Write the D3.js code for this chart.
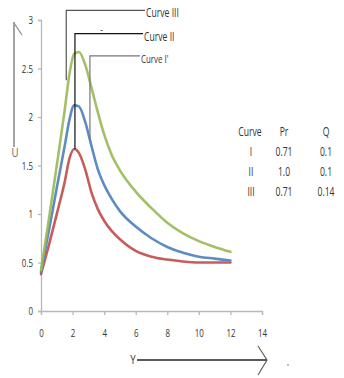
<!DOCTYPE html>
<html><head><meta charset="utf-8">
<script src="https://cdn.jsdelivr.net/npm/d3@7"></script>
<style>
html,body{margin:0;padding:0;background:#fff;}
svg{display:block;}
text{font-family:"Open Sans","Liberation Sans",sans-serif;}
</style></head><body>
<svg id="c" width="344" height="378"></svg>
<script>
const xVals   = [0, 0.5, 1, 1.5, 1.8, 2.1, 2.4, 2.8, 3.2, 3.6, 4, 4.5, 5, 6, 7, 8, 9, 10, 11, 12];
const curveI  = [0.38, 0.68, 1.0, 1.33, 1.57, 1.67, 1.63, 1.46, 1.22, 1.05, 0.93, 0.82, 0.74, 0.62, 0.56, 0.53, 0.51, 0.5, 0.5, 0.5];
const curveII = [0.4, 0.83, 1.27, 1.7, 1.97, 2.12, 2.11, 1.95, 1.7, 1.46, 1.3, 1.15, 1.03, 0.87, 0.75, 0.66, 0.6, 0.56, 0.54, 0.52];
const curveIII= [0.42, 0.95, 1.5, 2.07, 2.44, 2.65, 2.67, 2.54, 2.3, 2.05, 1.82, 1.6, 1.45, 1.23, 1.06, 0.91, 0.8, 0.72, 0.66, 0.61];
const xTicks = [0, 2, 4, 6, 8, 10, 12, 14];
const yTicks = [0, 0.5, 1, 1.5, 2, 2.5, 3];
const tableHead = ["Curve", "Pr", "Q"];
const tableRows = [["I", "0.71", "0.1"], ["II", "1.0", "0.1"], ["III", "0.71", "0.14"]];
const annLabels = ["Curve III", "Curve II", "Curve I'"];
const annX   = [1.6, 2.15, 3.1];
const annFoot= [2.38, 1.67, 1.76];
const annTop = [3.1, 2.86, 2.63];

const svg = d3.select("#c");
const x = d3.scaleLinear().domain([0, 14]).range([41, 262]);
const y = d3.scaleLinear().domain([0, 3]).range([311, 20]);
const colors = ["#c0504d", "#4f81bd", "#9bbb59"];

// squeeze text horizontally to mimic a condensed face
function narrow(sel, k) {
  sel.each(function() {
    const t = d3.select(this);
    const tx = +t.attr("x") || 0, ty = +t.attr("y") || 0;
    t.attr("x", 0).attr("y", 0).attr("transform", `translate(${tx},${ty}) scale(${k},1)`);
  });
}

const axisCol = "#b8b8b8";
const gx = svg.append("g").attr("transform", `translate(0,${y(0)})`)
  .call(d3.axisBottom(x).tickValues(xTicks).tickSize(4).tickPadding(14).tickFormat(d3.format("d")));
const gy = svg.append("g").attr("transform", `translate(${x(0)},0)`)
  .call(d3.axisLeft(y).tickValues(yTicks).tickSize(3).tickPadding(5).tickFormat(d => d));
[gx, gy].forEach(g => {
  g.select(".domain").attr("stroke", axisCol).attr("stroke-width", 1.3);
  g.selectAll(".tick line").attr("stroke", axisCol).attr("stroke-width", 1.3);
  g.selectAll("text").attr("fill", "#333").attr("font-size", 11)
   .style("font-family", '"Open Sans",sans-serif');
});
gy.selectAll("text").attr("dy", "0.35em");
narrow(gx.selectAll("text"), 0.72);
narrow(gy.selectAll("text"), 0.72);

const allSeries = [curveI, curveII, curveIII];
const line = d3.line().x((d, i) => x(xVals[i])).y(d => y(d)).curve(d3.curveMonotoneX);
allSeries.forEach((s, k) => {
  svg.append("path").datum(s).attr("d", line)
    .attr("fill", "none").attr("stroke", colors[k]).attr("stroke-width", 2.6)
    .attr("stroke-linejoin", "round").attr("stroke-linecap", "round").attr("opacity", 0.92);
});

const annEnd = [145, 143, 140];
const annCol = ["#555", "#111", "#777"];
const annTexts = [];
annLabels.forEach((lab, i) => {
  const lx = x(annX[i]);
  svg.append("path")
    .attr("d", `M${lx},${y(annFoot[i])}V${y(annTop[i])}H${annEnd[i]}`)
    .attr("fill", "none").attr("stroke", annCol[i]).attr("stroke-width", 1.2);
  annTexts.push(svg.append("text").attr("x", annEnd[i] + 1).attr("y", y(annTop[i]) + 7)
    .attr("font-size", i === 2 ? 11 : 12).attr("fill", "#333").text(lab));
});
annTexts.forEach(t => narrow(t, 0.72));
svg.append("text").attr("x", 100).attr("y", 33).attr("font-size", 10).attr("fill", "#555").text("-");

const colX = [250, 284, 326];
const tbl = svg.append("g");
tbl.selectAll("text.h").data(tableHead).join("text").attr("class", "h")
  .attr("x", (d, i) => colX[i]).attr("y", 136).attr("text-anchor", "middle")
  .attr("font-size", 12).attr("fill", "#333").text(d => d);
const rowY = [156, 176, 196];
tableRows.forEach((r, ri) => {
  tbl.append("g").selectAll("text").data(r).join("text")
    .attr("x", (d, i) => colX[i] + (i === 0 ? 1 : 0)).attr("y", rowY[ri]).attr("text-anchor", "middle")
    .attr("font-size", 12).attr("fill", "#333").text(d => d);
});
narrow(tbl.selectAll("text"), 0.72);

svg.append("line").attr("x1", 14).attr("x2", 14).attr("y1", 22).attr("y2", 147)
  .attr("stroke", "#9a9a9a").attr("stroke-width", 1.8);
svg.append("line").attr("x1", 14).attr("x2", 22).attr("y1", 23).attr("y2", 35)
  .attr("stroke", "#8a8a8a").attr("stroke-width", 1.2);
narrow(svg.append("text").attr("x", 15).attr("y", 157).attr("text-anchor", "middle")
  .attr("font-size", 12).attr("fill", "#666").text("U"), 0.8);

narrow(svg.append("text").attr("x", 133).attr("y", 364).attr("text-anchor", "middle")
  .attr("font-size", 13).attr("fill", "#333").text("Y"), 0.75);
svg.append("line").attr("x1", 137).attr("x2", 267).attr("y1", 360).attr("y2", 360)
  .attr("stroke", "#222").attr("stroke-width", 1.3);
svg.append("path").attr("d", "M258,346L267,360L258,375").attr("fill", "none")
  .attr("stroke", "#555").attr("stroke-width", 1.1);
svg.append("circle").attr("cx", 288).attr("cy", 365).attr("r", 0.8).attr("fill", "#666");
</script>
</body></html>
